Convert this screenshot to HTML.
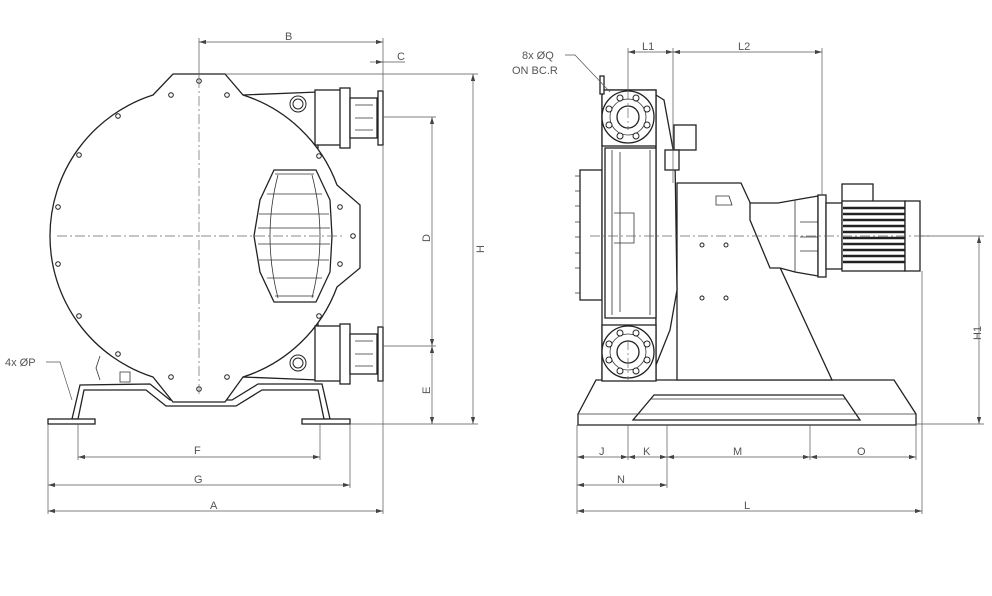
<!DOCTYPE html>
<html><head><meta charset="utf-8"><style>
html,body{margin:0;padding:0;background:#fff}
svg{display:block}
text{font-family:"Liberation Sans",sans-serif;font-size:11px;fill:#555}
.o{fill:#fff;stroke:#222;stroke-width:1.3}
.t{fill:none;stroke:#333;stroke-width:0.8}
.d{fill:none;stroke:#555;stroke-width:0.7}
.c{fill:none;stroke:#666;stroke-width:0.7;stroke-dasharray:10 3 2 3}
.h{fill:#fff;stroke:#222;stroke-width:1}
</style></head><body>
<svg width="992" height="596" viewBox="0 0 992 596" xmlns="http://www.w3.org/2000/svg">
<defs>
<marker id="a" viewBox="0 0 10 6" refX="10" refY="3" markerWidth="10" markerHeight="6" orient="auto-start-reverse"><path d="M0,0L10,3L0,6z" fill="#444"/></marker>
</defs>

<!-- LEFT VIEW -->
<!-- frame -->
<path class="o" d="M72,419 L80,385 L150,384 L170,400 L232,400 L258,384 L322,384 L330,419 L324,419 L318,390 L262,390 L236,406 L166,406 L146,390 L84,390 L78,419z"/>
<rect class="o" x="48" y="419" width="47" height="5"/>
<rect class="o" x="302" y="419" width="48" height="5"/>
<!-- port necks -->
<path class="o" d="M243,95 L318,92 L318,148 L300,148z"/>
<path class="o" d="M243,377 L300,324 L318,324 L318,380z"/>
<!-- body -->
<path class="o" d="M173,74 L225,74 L243,95 A148,148 0 0 1 337,185 L360,205 L360,268 L337,287 A148,148 0 0 1 243,377 L225,402 L173,402 L153,377 A148,148 0 0 1 153,95 Z"/>
<!-- ports -->
<g>
<rect class="o" x="315" y="90" width="27" height="55"/>
<rect class="o" x="340" y="88" width="10" height="60"/>
<rect class="o" x="350" y="98" width="27" height="40"/>
<rect class="o" x="378" y="91" width="5" height="54"/>
<rect class="o" x="315" y="326" width="27" height="55"/>
<rect class="o" x="340" y="324" width="10" height="60"/>
<rect class="o" x="350" y="334" width="27" height="40"/>
<rect class="o" x="378" y="327" width="5" height="54"/>
<path class="t" d="M355,105h18M355,118h18M355,130h18M355,341h18M355,354h18M355,366h18"/>
</g>
<circle class="h" cx="298" cy="104" r="8"/><circle class="h" cx="298" cy="104" r="5"/>
<circle class="h" cx="298" cy="363" r="8"/><circle class="h" cx="298" cy="363" r="5"/>
<path class="t" d="M100,356 L96,368 L100,380 M120,372h10v10h-10z"/>
<!-- window -->
<path class="o" d="M274,170 L316,170 L330,200 L332,236 L330,272 L316,302 L274,302 L260,272 L254,236 L260,200z"/>
<path class="t" d="M278,175 Q262,236 278,298 M312,175 Q328,236 312,298"/>
<path class="t" d="M275,174h39M267,194h55M259,214h70M258,228h72M258,244h72M259,260h70M267,278h55M275,296h39"/>
<!-- bolts -->
<g fill="#fff" stroke="#222" stroke-width="1">
<circle cx="199" cy="81" r="2.3"/><circle cx="171" cy="95" r="2.3"/><circle cx="227" cy="95" r="2.3"/>
<circle cx="118" cy="116" r="2.3"/><circle cx="79" cy="155" r="2.3"/><circle cx="58" cy="207" r="2.3"/>
<circle cx="58" cy="264" r="2.3"/><circle cx="79" cy="316" r="2.3"/><circle cx="118" cy="354" r="2.3"/>
<circle cx="171" cy="377" r="2.3"/><circle cx="227" cy="377" r="2.3"/><circle cx="199" cy="389" r="2.3"/>
<circle cx="319" cy="156" r="2.3"/><circle cx="319" cy="316" r="2.3"/><circle cx="340" cy="207" r="2.3"/>
<circle cx="340" cy="264" r="2.3"/><circle cx="353" cy="236" r="2.3"/>
</g>
<path class="c" d="M199,78V395M57,236H345"/>
<!-- left dims -->
<path class="d" d="M199,38V78M383,38V90M383,145V326M383,381V514M48,424V514M78,424V460M320,424V460M350,424V488"/>
<path class="d" d="M225,74H478M383,117H436M383,346H436M350,424H478"/>
<path class="d" marker-start="url(#a)" marker-end="url(#a)" d="M199,42H383"/>
<path class="d" marker-end="url(#a)" d="M370,62H383"/><path class="d" d="M383,62H405"/>
<path class="d" marker-start="url(#a)" marker-end="url(#a)" d="M473,74V424"/>
<path class="d" marker-start="url(#a)" marker-end="url(#a)" d="M432,117V346"/>
<path class="d" marker-start="url(#a)" marker-end="url(#a)" d="M432,346V424"/>
<path class="d" marker-start="url(#a)" marker-end="url(#a)" d="M78,457H320"/>
<path class="d" marker-start="url(#a)" marker-end="url(#a)" d="M48,485H350"/>
<path class="d" marker-start="url(#a)" marker-end="url(#a)" d="M48,511H383"/>
<path class="d" d="M46,362H60L72,400"/>
<text x="285" y="40">B</text><text x="397" y="60">C</text>
<text x="194" y="454">F</text><text x="194" y="483">G</text><text x="210" y="509">A</text>
<text transform="translate(430,242) rotate(-90)">D</text>
<text transform="translate(484,253) rotate(-90)">H</text>
<text transform="translate(430,394) rotate(-90)">E</text>
<text x="5" y="366">4x  ØP</text>

<!-- RIGHT VIEW -->
<path class="o" d="M596,380 L894,380 L916,414 L916,425 L578,425 L578,414z"/>
<path class="o" d="M654,395 L843,395 L860,420 L633,420z"/>
<path class="t" d="M578,414H916M650,399H846"/>
<path class="o" d="M677,183 L741,183 L832,380 L677,380z"/>
<path class="t" d="M716,196h13l3,9h-16z"/>
<g fill="#fff" stroke="#222" stroke-width="1">
<circle cx="702" cy="245" r="2"/><circle cx="726" cy="245" r="2"/><circle cx="702" cy="298" r="2"/><circle cx="726" cy="298" r="2"/>
</g>
<!-- gear/coupling -->
<path class="o" d="M750,203 L778,203 L795,200 L818,196 L818,276 L795,272 L780,268 L770,268 L750,220z"/>
<path class="t" d="M795,200V272M800,222h18M800,237h18M800,251h18"/>
<rect class="o" x="818" y="195" width="8" height="82"/>
<rect class="o" x="826" y="203" width="16" height="66"/>
<rect class="o" x="842" y="184" width="31" height="18"/>
<rect class="o" x="842" y="201" width="63" height="70"/>
<path d="M843,208h62M843,214h62M843,220h62M843,226h62M843,232h62M843,238h62M843,244h62M843,250h62M843,256h62M843,262h62" stroke="#222" stroke-width="2.5"/>
<rect class="o" x="905" y="201" width="15" height="70"/>
<!-- housing -->
<rect class="o" x="580" y="170" width="22" height="130"/>
<path class="t" d="M580,176h-5M580,191h-5M580,206h-5M580,222h-5M580,237h-5M580,253h-5M580,268h-5M580,293h-5" stroke-width="1.5"/>
<rect class="o" x="602" y="90" width="54" height="290"/>
<path class="o" d="M656,95 L664,100 L675,160 L677,290 L670,330 L656,365z"/>
<rect class="o" x="605" y="148" width="51" height="170"/>
<path class="t" d="M612,150V315M620,152V312M650,150V315M614,213h20v30h-20"/>
<rect class="o" x="674" y="125" width="22" height="25"/>
<rect class="o" x="665" y="150" width="14" height="20"/>
<rect class="o" x="602" y="90" width="54" height="56"/>
<rect class="o" x="602" y="325" width="54" height="56"/>
<circle class="o" cx="628" cy="117" r="26"/><circle class="t" cx="628" cy="117" r="18"/><circle class="o" cx="628" cy="117" r="11"/>
<circle class="o" cx="628" cy="352" r="26"/><circle class="t" cx="628" cy="352" r="18"/><circle class="o" cx="628" cy="352" r="11"/>
<g fill="#fff" stroke="#222" stroke-width="1">
<circle cx="620" cy="98" r="3"/><circle cx="636" cy="98" r="3"/><circle cx="647" cy="109" r="3"/><circle cx="647" cy="125" r="3"/><circle cx="636" cy="136" r="3"/><circle cx="620" cy="136" r="3"/><circle cx="609" cy="125" r="3"/><circle cx="609" cy="109" r="3"/>
<circle cx="620" cy="333" r="3"/><circle cx="636" cy="333" r="3"/><circle cx="647" cy="344" r="3"/><circle cx="647" cy="360" r="3"/><circle cx="636" cy="371" r="3"/><circle cx="620" cy="371" r="3"/><circle cx="609" cy="360" r="3"/><circle cx="609" cy="344" r="3"/>
</g>
<path class="o" d="M600,76h4v18h-4z"/>
<path class="c" d="M590,236H930M628,90V130M628,340V380"/>
<!-- right dims -->
<path class="d" d="M628,48V90M673,48V183M822,48V195M577,425V514M628,425V460M667,425V488M810,425V460M916,425V460M922,271V514M920,236H984M916,424H984"/>
<path class="d" marker-start="url(#a)" marker-end="url(#a)" d="M628,52H673"/>
<path class="d" marker-start="url(#a)" marker-end="url(#a)" d="M673,52H822"/>
<path class="d" marker-start="url(#a)" marker-end="url(#a)" d="M577,457H628"/>
<path class="d" marker-start="url(#a)" marker-end="url(#a)" d="M628,457H667"/>
<path class="d" marker-start="url(#a)" marker-end="url(#a)" d="M667,457H810"/>
<path class="d" marker-start="url(#a)" marker-end="url(#a)" d="M810,457H916"/>
<path class="d" marker-start="url(#a)" marker-end="url(#a)" d="M577,485H667"/>
<path class="d" marker-start="url(#a)" marker-end="url(#a)" d="M577,511H922"/>
<path class="d" marker-start="url(#a)" marker-end="url(#a)" d="M979,236V424"/>
<path class="d" d="M565,55H575L610,92"/>
<text x="642" y="50">L1</text><text x="738" y="50">L2</text>
<text x="599" y="455">J</text><text x="643" y="455">K</text><text x="733" y="455">M</text><text x="857" y="455">O</text>
<text x="617" y="483">N</text><text x="744" y="509">L</text>
<text transform="translate(981,340) rotate(-90)">H1</text>
<text x="522" y="59">8x  ØQ</text><text x="512" y="74">ON BC.R</text>
</svg>
</body></html>
